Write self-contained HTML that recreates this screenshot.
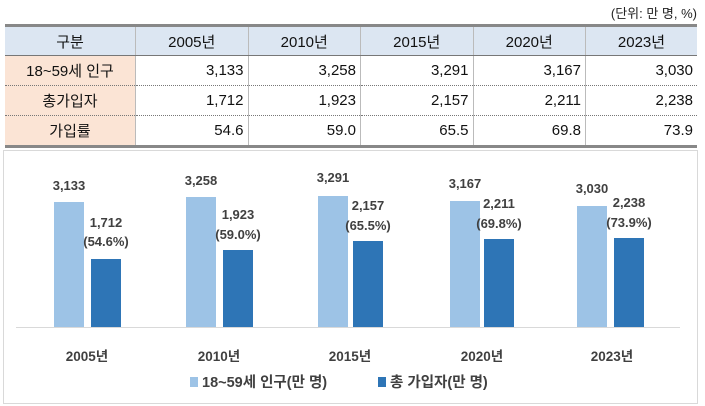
<!DOCTYPE html>
<html><head><meta charset="utf-8"><style>
body{margin:0;width:705px;height:406px;background:#fff;font-family:"Liberation Sans","Noto Sans CJK KR",sans-serif;position:relative;overflow:hidden}
.unit{position:absolute;right:8px;top:3px;font-size:13px;color:#222}
table{position:absolute;left:5px;top:24px;width:692px;border-collapse:collapse;font-size:15px;color:#111}
td{height:29px;border-right:1px solid #bbb;border-bottom:1px dotted #777;text-align:right;padding:0 4px}
td:last-child{border-right:none}
tr.h td{background:#dce6f2;text-align:center;border-top:3px solid #888;border-bottom:1px solid #777;height:28px}
td.f{background:#fbe4d5;text-align:center;width:122px}
tr.l td{border-bottom:3px solid #888}
.chart{position:absolute;left:3px;top:150px;width:693px;height:252px;border:1px solid #d9d9d9}
</style></head><body>
<div class="unit">(단위: 만 명, %)</div>
<table>
<tr class="h"><td class="f" style="background:#dce6f2">구분</td><td>2005년</td><td>2010년</td><td>2015년</td><td>2020년</td><td>2023년</td></tr>
<tr><td class="f">18~59세 인구</td><td>3,133</td><td>3,258</td><td>3,291</td><td>3,167</td><td>3,030</td></tr>
<tr><td class="f">총가입자</td><td>1,712</td><td>1,923</td><td>2,157</td><td>2,211</td><td>2,238</td></tr>
<tr class="l"><td class="f">가입률</td><td>54.6</td><td>59.0</td><td>65.5</td><td>69.8</td><td>73.9</td></tr>
</table>
<div class="chart"></div>
<svg width="705" height="406" style="position:absolute;left:0;top:0" font-family="Liberation Sans, Noto Sans CJK KR, sans-serif" font-weight="bold" font-size="13" fill="#404040" text-anchor="middle">
<line x1="16" y1="327.5" x2="680" y2="327.5" stroke="#d9d9d9"/>
<g fill="#9dc3e6">
<rect x="54" y="202" width="30" height="125"/>
<rect x="186" y="197" width="30" height="130"/>
<rect x="318" y="196" width="30" height="131"/>
<rect x="450" y="201" width="30" height="126"/>
<rect x="577" y="206" width="30" height="121"/>
</g>
<g fill="#2e75b6">
<rect x="91" y="259" width="30" height="68"/>
<rect x="223" y="250" width="30" height="77"/>
<rect x="353" y="241" width="30" height="86"/>
<rect x="484" y="239" width="30" height="88"/>
<rect x="614" y="238" width="30" height="89"/>
</g>
<text x="69" y="190">3,133</text><text x="201" y="185">3,258</text><text x="333" y="182">3,291</text><text x="465" y="188">3,167</text><text x="592" y="193">3,030</text>
<text x="106" y="227">1,712</text><text x="106" y="246">(54.6%)</text>
<text x="238" y="219">1,923</text><text x="238" y="239">(59.0%)</text>
<text x="368" y="210">2,157</text><text x="368" y="230">(65.5%)</text>
<text x="499" y="208">2,211</text><text x="499" y="228">(69.8%)</text>
<text x="629" y="207">2,238</text><text x="629" y="227">(73.9%)</text>
<g font-size="13.5"><text x="87" y="361">2005년</text><text x="219" y="361">2010년</text><text x="350" y="361">2015년</text><text x="482" y="361">2020년</text><text x="612" y="361">2023년</text></g>
<g font-size="14.5">
<rect x="190" y="377" width="8" height="10" fill="#9dc3e6"/>
<text x="202" y="387" text-anchor="start">18~59세 인구(만 명)</text>
<rect x="378" y="377" width="8" height="10" fill="#2e75b6"/>
<text x="390" y="387" text-anchor="start">총 가입자(만 명)</text>
</g>
</svg>
</body></html>
